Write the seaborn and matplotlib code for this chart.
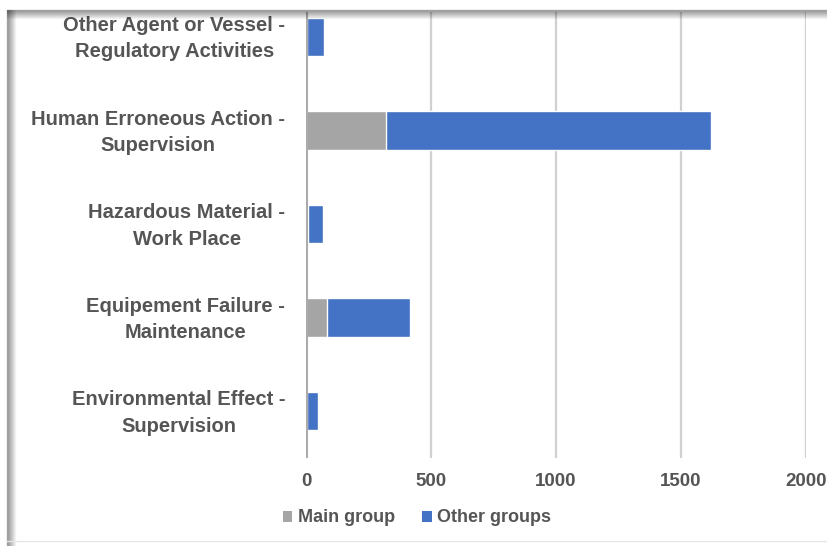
import matplotlib
matplotlib.use("Agg")
import matplotlib.pyplot as plt
from matplotlib.lines import Line2D
from matplotlib.patches import Patch
from matplotlib.transforms import ScaledTranslation
import seaborn as sns
import pandas as pd

categories = [
    "Other Agent or Vessel -\nRegulatory Activities",
    "Human Erroneous Action -\nSupervision",
    "Hazardous Material -\nWork Place",
    "Equipement Failure -\nMaintenance",
    "Environmental Effect -\nSupervision",
]
main_group = [5, 318, 8, 84, 4]
other_groups = [66, 1302, 59, 332, 45]
x_ticks = [0, 500, 1000, 1500, 2000]

GRAY = "#A5A5A5"
BLUE = "#4472C4"
TEXT = "#555555"

df = pd.DataFrame({
    "category": categories,
    "main": main_group,
    "total": [m + o for m, o in zip(main_group, other_groups)],
})

sns.set_style("white")
plt.rcParams["font.family"] = ["Liberation Sans", "DejaVu Sans"]
plt.rcParams["font.weight"] = "bold"

W, H = 827, 546
fig = plt.figure(figsize=(W / 100, H / 100), dpi=100)
ax = fig.add_axes([306 / W, 1 - 458 / H, 500 / W, 446 / H])

# stacked horizontal bars: full length in blue, main group overlaid in gray
sns.barplot(data=df, x="total", y="category", color=BLUE, width=0.41,
            saturation=1, ax=ax, zorder=3)
sns.barplot(data=df, x="main", y="category", color=GRAY, width=0.41,
            saturation=1, ax=ax, zorder=4)

ax.set_xlim(0, 2000)
ax.set_ylim(4.5, -0.267)
ax.set_xticks(x_ticks)
ax.set_xticklabels([str(t) for t in x_ticks])
ax.set_xlabel("")
ax.set_ylabel("")

for t in x_ticks[1:]:
    ax.axvline(t, color="#D0D0D0", lw=1.6, zorder=1)
ax.axvline(0, color="#ABABAB", lw=2.2, zorder=5)

for s in ax.spines.values():
    s.set_visible(False)

ax.tick_params(axis="x", length=0, pad=11, labelsize=13.5, labelcolor=TEXT)
ax.tick_params(axis="y", length=0, pad=15, labelsize=14.5, labelcolor=TEXT)
lift = ScaledTranslation(0, 4 / 100, fig.dpi_scale_trans)
for lab in ax.get_yticklabels():
    lab.set_multialignment("center")
    lab.set_linespacing(1.5)
    lab.set_fontweight("bold")
    lab.set_transform(lab.get_transform() + lift)
for lab in ax.get_xticklabels():
    lab.set_fontweight("bold")

handles = [Patch(facecolor=GRAY, edgecolor="none", label="Main group"),
           Patch(facecolor=BLUE, edgecolor="none", label="Other groups")]
leg = fig.legend(handles=handles, loc="center", ncol=2,
                 bbox_to_anchor=(417 / W, 1 - 518 / H), frameon=False,
                 handlelength=0.55, handleheight=0.55, handletextpad=0.3,
                 columnspacing=1.5, prop={"size": 13, "weight": "bold"})
for txt in leg.get_texts():
    txt.set_color(TEXT)

# soft frame shadow along the top and left edges
for i in range(9):
    a = 0.55 * (1 - i / 9)
    y = 1 - (10 + i) / H
    fig.add_artist(Line2D([7 / W, 1], [y, y], transform=fig.transFigure,
                          color="black", alpha=a * 0.6, lw=1))
    x = (7 + i) / W
    fig.add_artist(Line2D([x, x], [1 - 10 / H, 0], transform=fig.transFigure,
                          color="black", alpha=a * 0.6, lw=1))
fig.add_artist(Line2D([7 / W, 1], [1 - 541 / H, 1 - 541 / H],
                      transform=fig.transFigure, color="#E6E6E6", lw=1))

fig.savefig("out.png", dpi=100, facecolor="white")
